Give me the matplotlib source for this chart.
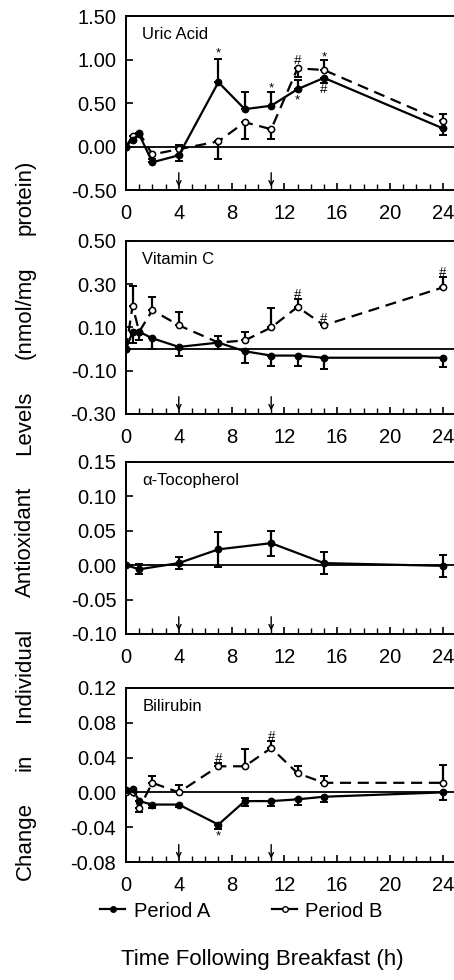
import numpy as np
from matplotlib import pyplot as plt
from matplotlib.ticker import MultipleLocator
from matplotlib.lines import Line2D

plt.rcParams['font.family'] = ['Liberation Sans', 'DejaVu Sans']

# Sampling times (h after breakfast)
times = [0, 0.5, 1, 2, 4, 7, 9, 11, 13, 15, 24]
toco_times = [0, 1, 4, 7, 11, 15, 24]

# Uric acid
uric_a = [0, 0.08, 0.14, -0.18, -0.10, 0.74, 0.43, 0.47, 0.66, 0.79, 0.21]
uric_a_lo = [0, 0, 0, 0, 0.06, 0, 0, 0, 0, 0.06, 0.08]
uric_a_hi = [0, 0, 0, 0, 0, 0.27, 0.20, 0.16, 0.10, 0, 0]
uric_b = [0, 0.12, 0.16, -0.09, -0.03, 0.06, 0.28, 0.20, 0.90, 0.88, 0.29]
uric_b_lo = [0, 0, 0, 0.05, 0, 0.20, 0.19, 0.11, 0.10, 0, 0]
uric_b_hi = [0, 0, 0, 0, 0.05, 0, 0, 0, 0, 0.11, 0.08]

# Vitamin C
vitc_a = [0, 0.08, 0.08, 0.05, 0.01, 0.03, -0.01, -0.03, -0.03, -0.04, -0.04]
vitc_a_lo = [0, 0.05, 0.04, 0.05, 0.04, 0.03, 0.055, 0.05, 0.05, 0.05, 0.045]
vitc_a_hi = [0, 0, 0, 0, 0, 0.03, 0, 0, 0, 0, 0]
vitc_b = [0, 0.20, 0.08, 0.18, 0.11, 0.03, 0.04, 0.10, 0.195, 0.11, 0.285]
vitc_b_lo = [0, 0, 0, 0, 0, 0, 0, 0, 0, 0, 0]
vitc_b_hi = [0, 0.09, 0, 0.06, 0.06, 0, 0.04, 0.09, 0.035, 0, 0.05]

# alpha-Tocopherol (Period A only)
toco_a = [0, -0.006, 0.003, 0.023, 0.032, 0.003, -0.001]
toco_a_err = [0, 0.007, 0.009, 0.025, 0.018, 0.016, 0.016]

# Bilirubin
bili_a = [0.003, 0.004, -0.010, -0.014, -0.014, -0.037, -0.010, -0.010, -0.008, -0.005, 0.0]
bili_a_lo = [0, 0, 0.008, 0.004, 0.003, 0.005, 0.006, 0.006, 0.006, 0.006, 0.009]
bili_a_hi = [0, 0, 0, 0, 0, 0, 0.004, 0, 0, 0, 0]
bili_b = [0, 0.0, -0.018, 0.011, 0.0, 0.030, 0.030, 0.051, 0.022, 0.011, 0.011]
bili_b_lo = [0, 0, 0.005, 0, 0, 0, 0, 0, 0, 0, 0]
bili_b_hi = [0, 0, 0, 0.008, 0.009, 0.004, 0.020, 0.008, 0.008, 0.008, 0.020]

# Significance marks: (x, y, symbol)
uric_marks = [(7, 1.07, '*'), (11, 0.67, '*'), (13, 0.53, '*'), (13, 0.98, '#'),
              (15, 1.03, '*'), (15, 0.65, '#')]
vitc_marks = [(13, 0.25, '#'), (15, 0.14, '#'), (24, 0.35, '#')]
bili_marks = [(7, 0.038, '#'), (11, 0.064, '#'), (7, -0.051, '*')]

meal_times = [4, 11]

fig = plt.figure(figsize=(4.54, 9.8), dpi=100)

# [bottom, height] in figure fraction for each panel
panel_pos = [(0.806, 0.1776), (0.5776, 0.1765), (0.3531, 0.1755), (0.1204, 0.1776)]
left, width = 0.2775, 0.7225


def draw_series(ax, x, y, lo, hi, period):
    if period == 'A':
        ls, mfc = '-', 'black'
    else:
        ls, mfc = (0, (5, 3)), 'white'
    ax.errorbar(x, y, yerr=[lo, hi], fmt='none', ecolor='black',
                elinewidth=1.6, capsize=3, capthick=1.4, zorder=2)
    ax.plot(x, y, linestyle=ls, color='black', linewidth=1.6,
            marker='o', markersize=4.5, markerfacecolor=mfc,
            markeredgecolor='black', markeredgewidth=1.1, zorder=3)


def style_axes(ax, ylim, yticks, title):
    ax.set_xlim(0, 24.85)
    ax.set_ylim(*ylim)
    ax.set_yticks(yticks)
    ax.set_yticklabels([f'{v:.2f}' for v in yticks])
    ax.xaxis.set_major_locator(MultipleLocator(4))
    ax.xaxis.set_minor_locator(MultipleLocator(1))
    ax.tick_params(axis='both', which='major', direction='in', length=5,
                   width=1.2, labelsize=14.5)
    ax.tick_params(axis='x', which='minor', direction='in', length=4, width=1.0)
    ax.tick_params(axis='x', pad=10)
    ax.tick_params(axis='y', pad=7)
    ax.spines['right'].set_visible(False)
    for s in ['left', 'bottom', 'top']:
        ax.spines[s].set_linewidth(1.4)
    ax.axhline(0, color='black', linewidth=1.3, zorder=1)
    ax.text(0.05, 0.895, title, transform=ax.transAxes, fontsize=12,
            va='center', ha='left')
    tr = ax.get_xaxis_transform()
    for m in meal_times:
        ax.annotate('', xy=(m, 0.02), xytext=(m, 0.1), xycoords=tr,
                    textcoords=tr,
                    arrowprops=dict(arrowstyle='->', color='black', lw=1.0,
                                    mutation_scale=8, shrinkA=0, shrinkB=0))


def draw_marks(ax, marks):
    for x, y, s in marks:
        ax.text(x, y, s, ha='center', va='center', fontsize=9.5)


axes = [fig.add_axes([left, b, width, h]) for b, h in panel_pos]

ax = axes[0]
draw_series(ax, times, uric_b, uric_b_lo, uric_b_hi, 'B')
draw_series(ax, times, uric_a, uric_a_lo, uric_a_hi, 'A')
draw_marks(ax, uric_marks)
style_axes(ax, (-0.5, 1.5), [-0.5, 0.0, 0.5, 1.0, 1.5], 'Uric Acid')

ax = axes[1]
draw_series(ax, times, vitc_b, vitc_b_lo, vitc_b_hi, 'B')
draw_series(ax, times, vitc_a, vitc_a_lo, vitc_a_hi, 'A')
draw_marks(ax, vitc_marks)
style_axes(ax, (-0.3, 0.5), [-0.3, -0.1, 0.1, 0.3, 0.5], 'Vitamin C')

ax = axes[2]
draw_series(ax, toco_times, toco_a, toco_a_err, toco_a_err, 'A')
style_axes(ax, (-0.1, 0.15), [-0.10, -0.05, 0.0, 0.05, 0.10, 0.15], '\u03b1-Tocopherol')

ax = axes[3]
draw_series(ax, times, bili_b, bili_b_lo, bili_b_hi, 'B')
draw_series(ax, times, bili_a, bili_a_lo, bili_a_hi, 'A')
draw_marks(ax, bili_marks)
style_axes(ax, (-0.08, 0.12), [-0.08, -0.04, 0.0, 0.04, 0.08, 0.12], 'Bilirubin')

# Legend below the bottom panel
handles = [Line2D([], [], color='black', lw=1.6, marker='o', markersize=4,
                  markerfacecolor='black'),
           Line2D([], [], color='black', lw=1.6, marker='o', markersize=4,
                  markerfacecolor='white')]
fig.legend(handles, ['Period A', 'Period B'], loc='center',
           bbox_to_anchor=(0.532, 0.0704), ncol=2, frameon=False, fontsize=14.5,
           handlelength=1.25, handletextpad=0.4, columnspacing=3.1)

fig.text(0.577, 0.021, 'Time Following Breakfast (h)', ha='center', va='center',
         fontsize=16)

# Y label: words spread evenly between two pixel rows, as in the original
ylabel_words = ['Change', 'in', 'Individual', 'Antioxidant', 'Levels', '(nmol/mg', 'protein)']
label_bottom, label_top = 880, 160
word_texts = [fig.text(0.055, 0.5, w, rotation=90, ha='center', va='center',
                       fontsize=16) for w in ylabel_words]
renderer = fig.canvas.get_renderer()
lengths = [t.get_window_extent(renderer).height for t in word_texts]
gap = (label_bottom - label_top - sum(lengths)) / (len(lengths) - 1)
pos = label_bottom
for t, ln in zip(word_texts, lengths):
    t.set_y(1 - (pos - ln / 2) / 980)
    pos -= ln + gap

plt.savefig('out.png', dpi=100)
